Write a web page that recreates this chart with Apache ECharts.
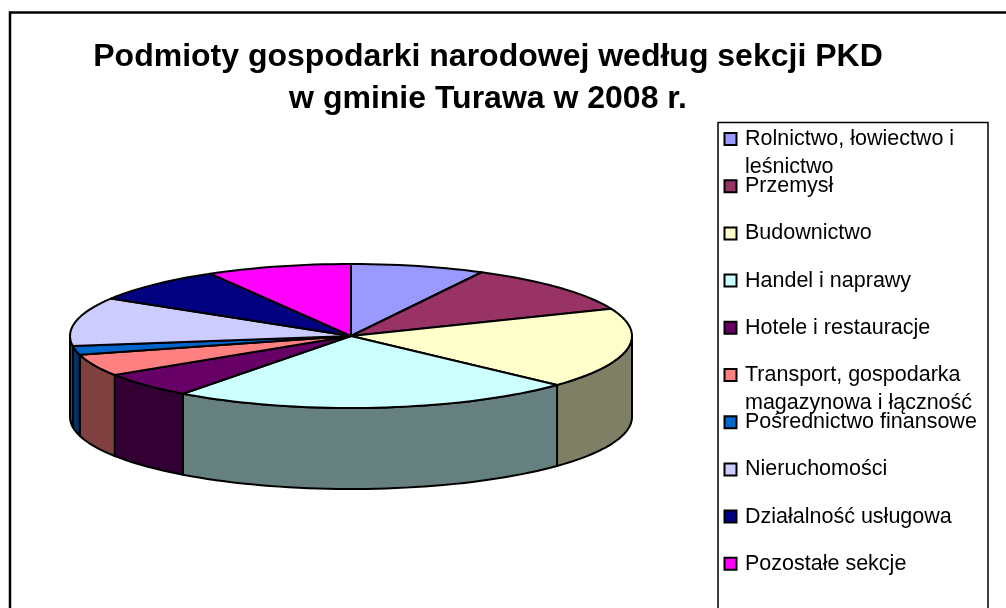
<!DOCTYPE html>
<html>
<head>
<meta charset="utf-8">
<style>
  html, body { margin: 0; padding: 0; background: #fff; }
  #chart { width: 1006px; height: 608px; }
</style>
<script src="https://cdn.jsdelivr.net/npm/echarts@6/dist/echarts.min.js"></script>
</head>
<body>
<div id="chart"></div>
<script>
var titleLines = ['Podmioty gospodarki narodowej według sekcji PKD', 'w gminie Turawa w 2008 r.']

var categories = [
  'Rolnictwo, łowiectwo i\nleśnictwo',
  'Przemysł',
  'Budownictwo',
  'Handel i naprawy',
  'Hotele i restauracje',
  'Transport, gospodarka\nmagazynowa i łączność',
  'Pośrednictwo finansowe',
  'Nieruchomości',
  'Działalność usługowa',
  'Pozostałe sekcje'
]
// udzialy (%)
var shares = [7.7, 11.15, 18.05, 23.3, 5.7, 4.9, 2.0, 10.9, 7.95, 8.35]
var topColors = ['#9999FF', '#993366', '#FFFFCC', '#CCFFFF', '#660066', '#FF8080', '#0066CC', '#CCCCFF', '#000080', '#FF00FF']
var sideColors = ['#4D4D80', '#4D1A33', '#7F7F66', '#667F7F', '#330033', '#804040', '#003366', '#666680', '#000040', '#800080']

var total = shares.reduce(function (a, b) { return a + b }, 0)

// wymiary "walca" na ekranie
var cx = 351
var cy = 336
var rx = 281
var ry = 72
var depth = 81

function pt(deg, dy) {
  var a = deg * Math.PI / 180
  return [cx + rx * Math.sin(a), cy - ry * Math.cos(a) + (dy || 0)]
}

function arc(from, to, dy) {
  var pts = []
  var n = Math.max(2, Math.ceil((to - from) / 2))
  for (var i = 0; i <= n; i++) {
    pts.push(pt(from + (to - from) * i / n, dy))
  }
  return pts
}

function sliceItem(index) {
  return function (params, api) {
    var before = shares.slice(0, index).reduce(function (a, b) { return a + b }, 0)
    var from = before / total * 360
    var to = from + api.value(0) / total * 360
    var children = []
    // sciana boczna widoczna tylko z przodu (90-270 stopni)
    var wFrom = Math.max(from, 90)
    var wTo = Math.min(to, 270)
    if (wTo > wFrom) {
      var wall = arc(wFrom, wTo, 0).concat(arc(wFrom, wTo, depth).reverse())
      children.push({
        type: 'polygon',
        shape: { points: wall },
        style: { fill: sideColors[index], stroke: '#000', lineWidth: 2, lineJoin: 'round' }
      })
    }
    children.push({
      type: 'polygon',
      shape: { points: [[cx, cy]].concat(arc(from, to, 0)) },
      style: { fill: topColors[index], stroke: '#000', lineWidth: 2, lineJoin: 'round' }
    })
    return { type: 'group', children: children }
  }
}

var series = categories.map(function (name, i) {
  return {
    type: 'custom',
    name: name,
    coordinateSystem: 'none',
    silent: true,
    itemStyle: { color: topColors[i] },
    renderItem: sliceItem(i),
    data: [[shares[i]]]
  }
})

// osobna legenda dla kazdego wiersza, bo wiersze maja stala wysokosc
var legends = categories.map(function (name, i) {
  var twoLines = name.indexOf('\n') >= 0
  return {
    data: [name],
    orient: 'vertical',
    left: 723.5,
    top: 139 + i * 47.2 - (twoLines ? 42 : 14),
    padding: 0,
    icon: 'rect',
    itemWidth: 12,
    itemHeight: 12,
    itemGap: 0,
    selectedMode: false,
    // pusta linia na poczatku, zeby znacznik stal przy pierwszym wierszu
    formatter: function (n) { return twoLines ? '\n' + n : n },
    itemStyle: { borderColor: '#000', borderWidth: 2 },
    textStyle: {
      fontFamily: 'Liberation Sans',
      fontSize: 21.5,
      color: '#000',
      lineHeight: 28,
      padding: [0, 0, 0, 3.5]
    }
  }
})

var chart = echarts.init(document.getElementById('chart'), null, { renderer: 'canvas' })
chart.setOption({
  animation: false,
  backgroundColor: '#fff',
  title: {
    text: titleLines.join('\n'),
    left: 483,
    top: 31,
    textAlign: 'center',
    textStyle: {
      fontFamily: 'Liberation Sans',
      fontSize: 32,
      fontWeight: 'bold',
      color: '#000',
      lineHeight: 42
    }
  },
  legend: legends,
  graphic: [
    {
      type: 'rect',
      z: -1,
      shape: { x: 10, y: 12.5, width: 1100, height: 700 },
      style: { fill: '#fff', stroke: '#000', lineWidth: 2.5 }
    },
    {
      type: 'rect',
      z: -1,
      shape: { x: 718, y: 122.5, width: 270, height: 600 },
      style: { fill: '#fff', stroke: '#000', lineWidth: 1.5 }
    }
  ],
  series: series
})
</script>
</body>
</html>
